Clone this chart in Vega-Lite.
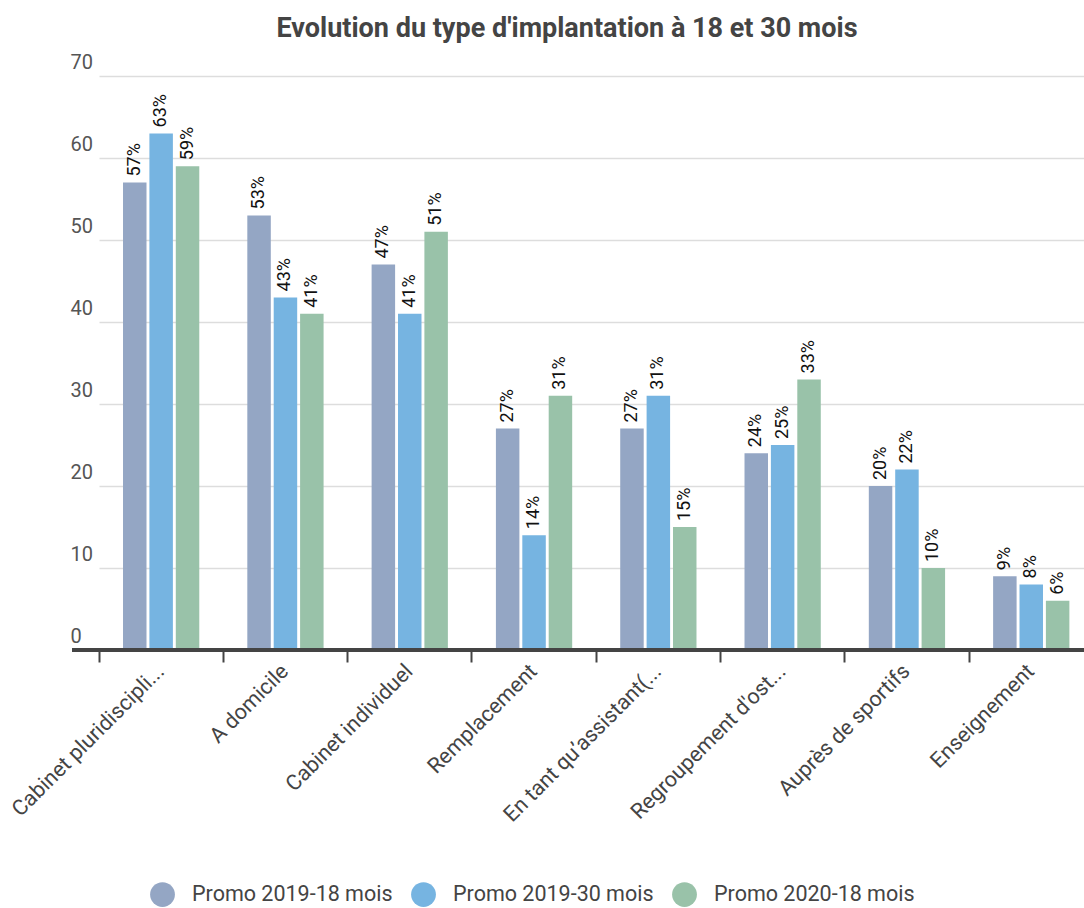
{
  "$schema": "https://vega.github.io/schema/vega-lite/v6.json",
  "width": 1012,
  "height": 574,
  "autosize": {"type": "none"},
  "padding": {"left": 72, "top": 76, "right": 0, "bottom": 258},
  "background": "white",
  "config": {"view": {"stroke": null}, "font": "Roboto"},
  "title": {
    "text": "Evolution du type d'implantation à 18 et 30 mois",
    "font": "Roboto",
    "fontSize": 27,
    "fontWeight": "bold",
    "color": "#444444",
    "anchor": "middle",
    "dx": -11,
    "offset": 9
  },
  "data": {
    "values": [
      {"cat": "Cabinet pluridiscipli...", "serie": "Promo 2019-18 mois", "value": 57, "label": "57%"},
      {"cat": "Cabinet pluridiscipli...", "serie": "Promo 2019-30 mois", "value": 63, "label": "63%"},
      {"cat": "Cabinet pluridiscipli...", "serie": "Promo 2020-18 mois", "value": 59, "label": "59%"},
      {"cat": "A domicile", "serie": "Promo 2019-18 mois", "value": 53, "label": "53%"},
      {"cat": "A domicile", "serie": "Promo 2019-30 mois", "value": 43, "label": "43%"},
      {"cat": "A domicile", "serie": "Promo 2020-18 mois", "value": 41, "label": "41%"},
      {"cat": "Cabinet individuel", "serie": "Promo 2019-18 mois", "value": 47, "label": "47%"},
      {"cat": "Cabinet individuel", "serie": "Promo 2019-30 mois", "value": 41, "label": "41%"},
      {"cat": "Cabinet individuel", "serie": "Promo 2020-18 mois", "value": 51, "label": "51%"},
      {"cat": "Remplacement", "serie": "Promo 2019-18 mois", "value": 27, "label": "27%"},
      {"cat": "Remplacement", "serie": "Promo 2019-30 mois", "value": 14, "label": "14%"},
      {"cat": "Remplacement", "serie": "Promo 2020-18 mois", "value": 31, "label": "31%"},
      {"cat": "En tant qu’assistant(...", "serie": "Promo 2019-18 mois", "value": 27, "label": "27%"},
      {"cat": "En tant qu’assistant(...", "serie": "Promo 2019-30 mois", "value": 31, "label": "31%"},
      {"cat": "En tant qu’assistant(...", "serie": "Promo 2020-18 mois", "value": 15, "label": "15%"},
      {"cat": "Regroupement d'ost...", "serie": "Promo 2019-18 mois", "value": 24, "label": "24%"},
      {"cat": "Regroupement d'ost...", "serie": "Promo 2019-30 mois", "value": 25, "label": "25%"},
      {"cat": "Regroupement d'ost...", "serie": "Promo 2020-18 mois", "value": 33, "label": "33%"},
      {"cat": "Auprès de sportifs", "serie": "Promo 2019-18 mois", "value": 20, "label": "20%"},
      {"cat": "Auprès de sportifs", "serie": "Promo 2019-30 mois", "value": 22, "label": "22%"},
      {"cat": "Auprès de sportifs", "serie": "Promo 2020-18 mois", "value": 10, "label": "10%"},
      {"cat": "Enseignement", "serie": "Promo 2019-18 mois", "value": 9, "label": "9%"},
      {"cat": "Enseignement", "serie": "Promo 2019-30 mois", "value": 8, "label": "8%"},
      {"cat": "Enseignement", "serie": "Promo 2020-18 mois", "value": 6, "label": "6%"}
    ]
  },
  "layer": [
    {
      "mark": {"type": "bar"},
      "encoding": {
        "x": {
          "field": "cat",
          "type": "nominal",
          "sort": null,
          "scale": {"range": [27, 1021.4], "paddingInner": 0, "paddingOuter": 0},
          "axis": {
            "title": null,
            "bandPosition": 0,
            "labelAngle": -45,
            "labelAlign": "right",
            "labelBaseline": "middle",
            "labelFont": "Roboto",
            "labelFontSize": 21.5,
            "labelColor": "#444444",
            "labelPadding": 6,
            "labelLimit": 400,
            "domain": false,
            "tickColor": "#444444",
            "tickWidth": 2,
            "tickSize": 12,
            "grid": false
          }
        },
        "xOffset": {
          "field": "serie",
          "type": "nominal",
          "scale": {"paddingInner": 0.11, "paddingOuter": 0.91}
        },
        "y": {
          "field": "value",
          "type": "quantitative",
          "scale": {"domain": [0, 70], "nice": false},
          "axis": {
            "title": null,
            "values": [0, 10, 20, 30, 40, 50, 60, 70],
            "domain": false,
            "ticks": false,
            "tickSize": 0,
            "labelAlign": "left",
            "labelBaseline": "bottom",
            "labelOffset": -4,
            "labelPadding": 2,
            "labelFont": "Roboto",
            "labelFontSize": 20,
            "labelColor": "#555555",
            "gridColor": "#dddddd",
            "gridWidth": 1.5
          }
        },
        "color": {
          "field": "serie",
          "type": "nominal",
          "scale": {
            "domain": ["Promo 2019-18 mois", "Promo 2019-30 mois", "Promo 2020-18 mois"],
            "range": ["#94a6c4", "#76b4e1", "#99c2a9"]
          },
          "legend": {
            "title": null,
            "orient": "none",
            "legendX": 78,
            "legendY": 806,
            "direction": "horizontal",
            "symbolType": "circle",
            "symbolSize": 615,
            "symbolOpacity": 1,
            "symbolStrokeWidth": 0,
            "labelFont": "Roboto",
            "labelFontSize": 21.5,
            "labelColor": "#444444",
            "labelOffset": 17,
            "columnPadding": 18,
            "labelLimit": 400
          }
        }
      }
    },
    {
      "mark": {
        "type": "text",
        "angle": 270,
        "align": "left",
        "baseline": "middle",
        "dx": 6,
        "font": "Roboto",
        "fontSize": 18,
        "color": "#111111"
      },
      "encoding": {
        "x": {"field": "cat", "type": "nominal", "sort": null},
        "xOffset": {"field": "serie", "type": "nominal"},
        "y": {"field": "value", "type": "quantitative"},
        "text": {"field": "label"}
      }
    },
    {
      "mark": {"type": "rule", "color": "#444444", "strokeWidth": 3},
      "encoding": {"y": {"datum": 0}}
    }
  ]
}
